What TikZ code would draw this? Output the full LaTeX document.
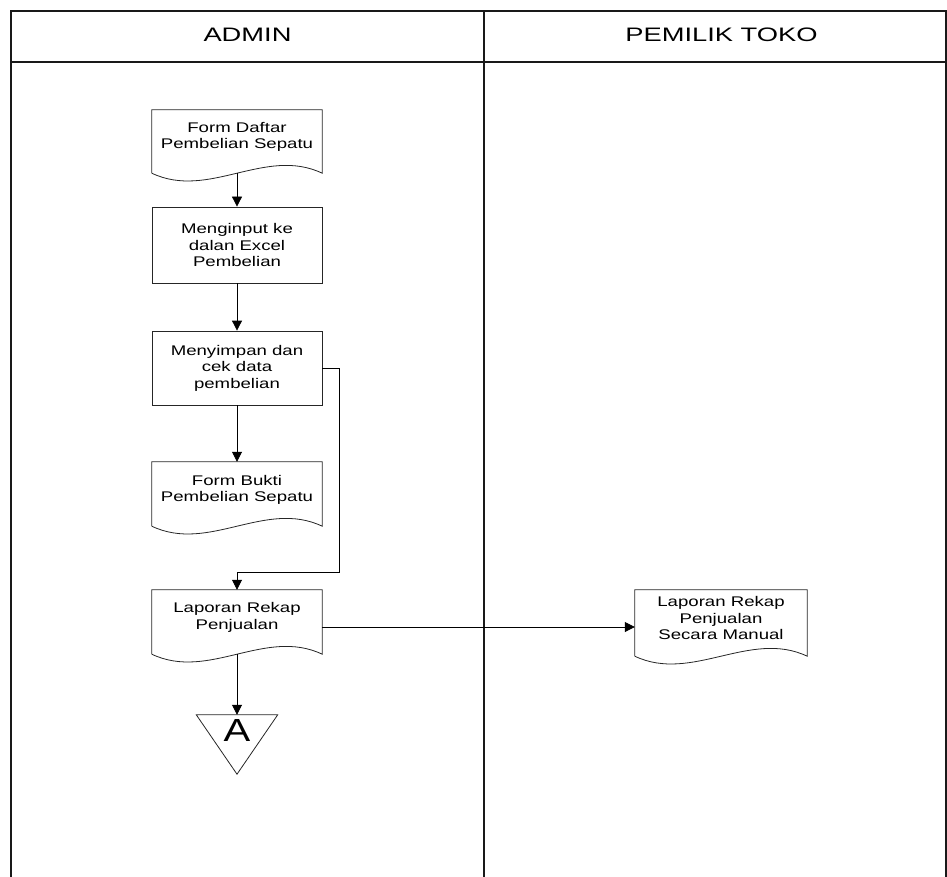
\documentclass[tikz,border=0pt]{standalone}
\usepackage{fontspec}
\setmainfont{Liberation Sans}
\usetikzlibrary{arrows.meta,calc}
\begin{document}
\begin{tikzpicture}[x=1pt,y=-1pt,
  frame/.style={line width=1.4pt,black!90},
  shp/.style={draw=black!85,line width=0.8pt},
  procbox/.style={shp,minimum width=170pt,inner sep=0pt},
  docbox/.style={draw=none,minimum width=170pt,minimum height=64pt,inner sep=0pt},
  txt/.style={font=\fontsize{14}{16.5}\selectfont,align=center,xscale=1.33,inner sep=0pt},
  head/.style={font=\fontsize{19.5}{24}\selectfont,xscale=1.4,inner sep=0pt},
  arr/.style={line width=0.8pt,-{Triangle[length=10pt,width=10pt]}},
  ln/.style={line width=0.8pt}
]
\useasboundingbox (0,0) rectangle (947,877);
% frame
\draw[frame] (11,877) -- (11,11) -- (946,11) -- (946,877);
\draw[frame] (11,62) -- (946,62);
\draw[frame] (484,11) -- (484,877);
\node[head] (hA) at (247.5,35) {ADMIN};
\node[head] (hP) at (721.5,35) {PEMILIK TOKO};
% document shape outline
\newcommand{\docshape}[1]{%
  \draw[shp] (#1.south west) -- (#1.north west) -- (#1.north east) -- (#1.south east)
    .. controls ($(#1.south east)+(-57,-27)$) and ($(#1.south west)+(57,27)$) .. (#1.south west);}
% nodes
\node[docbox,minimum height=63pt] (d1) at (237,141.5) {};
\docshape{d1}
\node[txt] (t1) at (237,137) {Form Daftar\\Pembelian Sepatu};

\node[procbox,minimum height=76pt] (p1) at (237,245) {};
\node[txt] (t2) at (p1) {Menginput ke\\dalan Excel\\Pembelian};

\node[procbox,minimum height=74pt] (p2) at (237,368) {};
\node[txt] (t3) at (p2) {Menyimpan dan\\cek data\\pembelian};

\node[docbox] (d2) at (237,494) {};
\docshape{d2}
\node[txt] (t4) at (237,490) {Form Bukti\\Pembelian Sepatu};

\node[docbox] (d3) at (237,622) {};
\docshape{d3}
\node[txt] (t5) at (237,617.5) {Laporan Rekap\\Penjualan};

\node[docbox,minimum width=172pt,minimum height=66pt] (d4) at (721,623) {};
\docshape{d4}
\node[txt] (t6) at (721,618) {Laporan Rekap\\Penjualan\\Secara Manual};

\node[draw=none,inner sep=0pt,minimum width=81pt,minimum height=59pt] (tri) at (237,744.5) {};
\draw[shp] (tri.north west) -- (tri.north east) -- (tri.south) -- cycle;
\node[font=\fontsize{32}{36}\selectfont,xscale=1.25,inner sep=0pt] (tA) at (237,730) {A};

% connectors
\draw[arr] (d1.south) -- (p1.north);
\draw[arr] (p1.south) -- (p2.north);
\draw[arr] (p2.south) -- (d2.north);
\draw[arr] (p2.east) -- ++(17,0) |- ($(d3.north)+(0,-17)$) -- (d3.north);
\draw[arr] ([yshift=-5pt]d3.east) -- ([yshift=-5pt]d3.east -| d4.west);
\draw[arr] (d3.south) -- (tri.north);
\end{tikzpicture}
\end{document}
